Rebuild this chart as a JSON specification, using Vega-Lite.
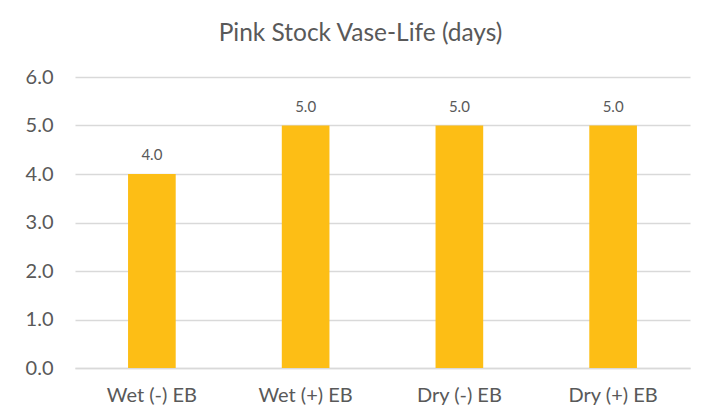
{
  "$schema": "https://vega.github.io/schema/vega-lite/v6.json",
  "width": 615,
  "height": 291,
  "autosize": "none",
  "padding": {"left": 75, "top": 77, "right": 22, "bottom": 52},
  "background": "white",
  "title": {
    "text": "Pink Stock Vase-Life (days)",
    "anchor": "middle",
    "dx": -22,
    "offset": 21,
    "font": "Lato",
    "fontSize": 24.5,
    "fontWeight": "normal",
    "color": "#595959"
  },
  "data": {
    "values": [
      {"treatment": "Wet (-) EB", "days": 4.0},
      {"treatment": "Wet (+) EB", "days": 5.0},
      {"treatment": "Dry (-) EB", "days": 5.0},
      {"treatment": "Dry (+) EB", "days": 5.0}
    ]
  },
  "encoding": {
    "x": {
      "field": "treatment",
      "type": "nominal",
      "sort": null,
      "scale": {"paddingInner": 0.69, "paddingOuter": 0.345},
      "axis": {
        "title": null,
        "labelAngle": 0,
        "labelFont": "Lato",
        "labelFontSize": 20,
        "labelColor": "#595959",
        "labelPadding": 17,
        "ticks": false,
        "domainColor": "#d9d9d9",
        "domainWidth": 1.5
      }
    },
    "y": {
      "field": "days",
      "type": "quantitative",
      "scale": {"domain": [0, 6]},
      "axis": {
        "title": null,
        "values": [0, 1, 2, 3, 4, 5, 6],
        "format": ".1f",
        "labelFont": "Lato",
        "labelFontSize": 20,
        "labelColor": "#595959",
        "labelPadding": 22,
        "ticks": false,
        "domain": false,
        "gridColor": "#d9d9d9",
        "gridWidth": 1.5
      }
    }
  },
  "layer": [
    {"mark": {"type": "bar", "color": "#FDBE15"}},
    {
      "mark": {"type": "text", "baseline": "alphabetic", "dy": -14, "font": "Lato", "fontSize": 15, "color": "#595959"},
      "encoding": {"text": {"field": "days", "type": "quantitative", "format": ".1f"}}
    }
  ],
  "config": {"view": {"stroke": null}}
}
